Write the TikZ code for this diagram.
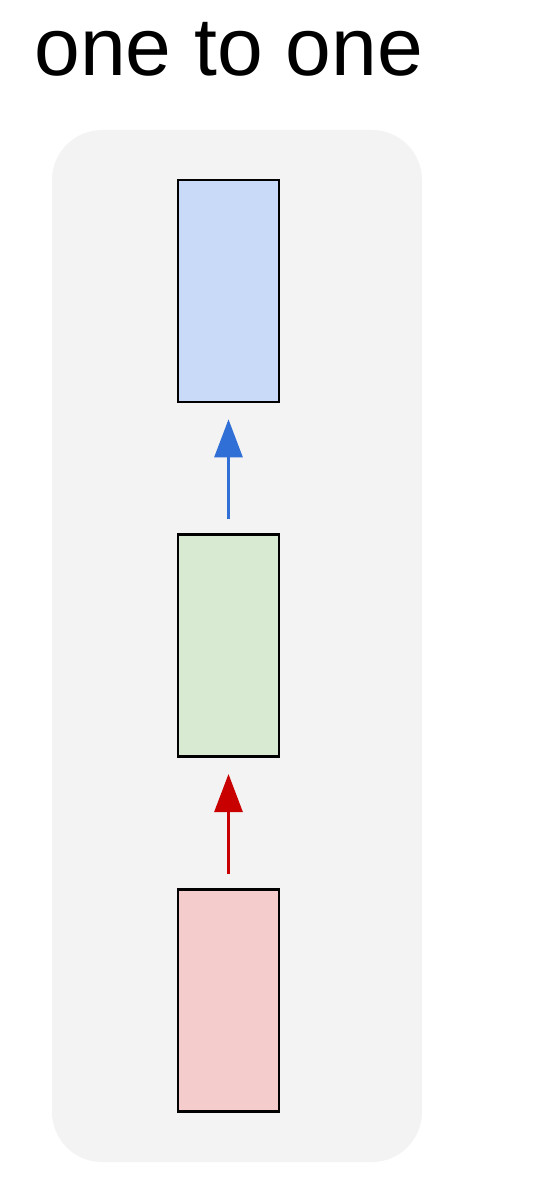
\documentclass[tikz,border=0pt]{standalone}
\usepackage{fontspec}
\setmainfont{Liberation Sans}
\usepackage{tikz}
\usetikzlibrary{
    arrows.meta,
    positioning
}
\definecolor{panelgray}{HTML}{F3F3F3}
\definecolor{outblue}{HTML}{C9DAF8}
\definecolor{hidgreen}{HTML}{D9EAD3}
\definecolor{inred}{HTML}{F4CCCC}
\definecolor{arrowblue}{HTML}{2F6FD6}
\definecolor{arrowred}{HTML}{C80000}
\tikzset{
    % Layer box
    layerbox/.style={
        rectangle,
        draw=black,
        fill=#1,
        line width=1.9pt,
        minimum width=2.525cm,
        minimum height=5.55cm,
        inner sep=0pt
    },
    layerbox/.default=outblue,
    % Arrow between layers
    layerarrow/.style={
        -{Triangle[length=0.95cm,width=0.7cm]},
        line width=2pt,
        color=#1,
        shorten <=0.35cm,
        shorten >=0.4cm
    },
    layerarrow/.default=arrowblue,
    % Title text
    titletext/.style={
        font=\fontsize{58.5}{70}\selectfont,
        inner sep=0pt,
        anchor=base west
    }
}
\begin{document}
\begin{tikzpicture}[node distance=3.25cm]
    \useasboundingbox (0,0) rectangle (13.95,-29.85);
    % Panel
    \fill[panelgray, rounded corners=1.25cm] (1.3,-3.25) rectangle (10.55,-29.05);
    \node[titletext] (title) at (0.85,-1.88) {one to one};

    \node[layerbox=outblue] (out) at (5.7125,-7.275) {};
    \node[layerbox=hidgreen, below=of out] (hid) {};
    \node[layerbox=inred, below=of hid] (in) {};

    \draw[layerarrow=arrowred] (in) -- (hid);
    \draw[layerarrow=arrowblue] (hid) -- (out);
\end{tikzpicture}
\end{document}
